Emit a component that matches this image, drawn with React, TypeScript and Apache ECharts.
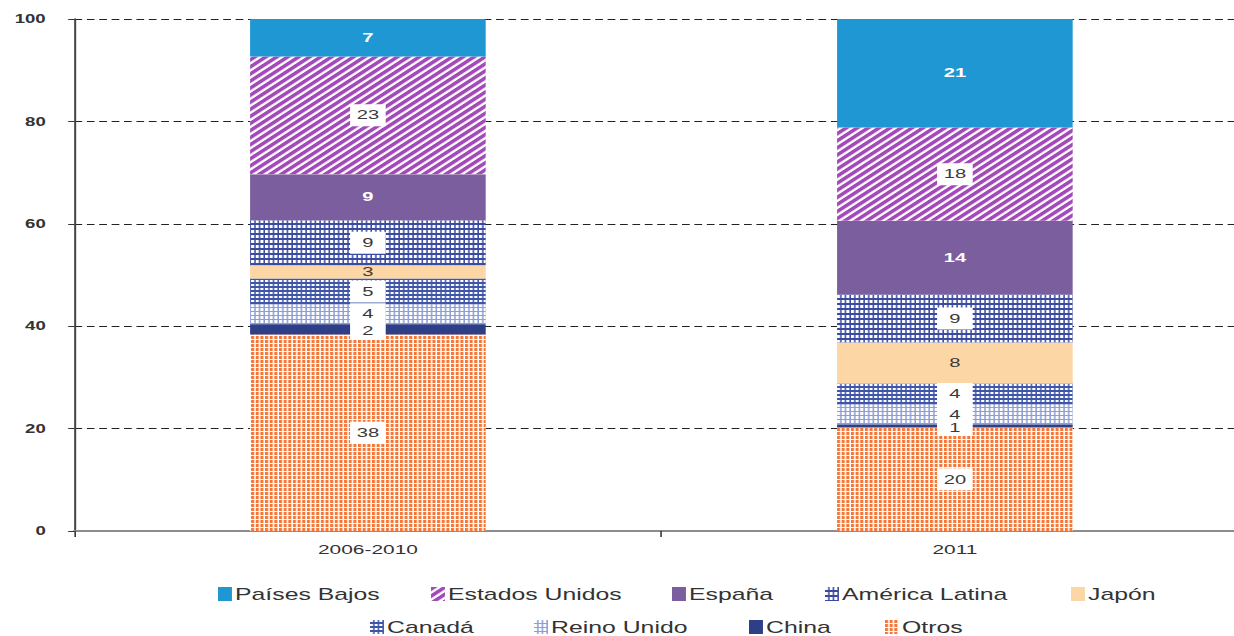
import React, { useEffect, useRef } from "react";
import * as echarts from "echarts";

const categories = ["2006-2010", "2011"];
const otros = [38.4, 20.2];
const china = [2.0, 0.6];
const reinoUnido = [3.9, 3.9];
const canada = [5.0, 4.1];
const japon = [2.6, 8.0];
const americaLatina = [8.8, 9.4];
const espana = [9.0, 14.4];
const estadosUnidos = [23.0, 18.2];
const paisesBajos = [7.3, 21.2];
const yTicks = [0, 20, 40, 60, 80, 100];

const FONT = "Liberation Sans";
// the reference is horizontally stretched; draw narrower and stretch with CSS
const SX = 1.55;

const fmt = (p: any) => String(Math.round(p.value));
const boxLabel = {
  show: true,
  position: "inside",
  color: "#3a3a3a",
  fontFamily: FONT,
  fontSize: 13,
  lineHeight: 14,
  backgroundColor: "#ffffff",
  padding: [4, 4.5],
  width: 14,
  align: "center",
  formatter: fmt,
};
const chinaLabel = { ...boxLabel, padding: [1, 4.5], offset: [0, 2] };
const whiteLabel = {
  show: true,
  position: "inside",
  color: "#ffffff",
  fontFamily: FONT,
  fontSize: 13,
  fontWeight: "bold",
  formatter: fmt,
};
const plainLabel = {
  show: true,
  position: "inside",
  color: "#3a3a3a",
  fontFamily: FONT,
  fontSize: 13,
  formatter: fmt,
};

export default function App() {
  const ref = useRef<HTMLDivElement>(null);
  useEffect(() => {
    document.body.style.margin = "0";
    const chart = echarts.init(ref.current!, null, { renderer: "svg" });
    const mk = (name: string, data: number[], color: string, label: any, decal?: any, z = 2) => ({
      name,
      type: "bar",
      stack: "total",
      barWidth: 152,
      z,
      data,
      itemStyle: decal ? { color, decal } : { color },
      label,
    });
    const series = [
      mk("Otros", otros, "#ffffff", boxLabel, {
        symbol: "rect", symbolSize: 1, color: "#f4773a",
        dashArrayX: [[2, 0.7]], dashArrayY: [3, 1],
      }),
      mk("China", china, "#2e3f88", chinaLabel, undefined, 3),
      mk("Reino Unido", reinoUnido, "#8d9dd6", boxLabel, {
        symbol: "rect", symbolSize: 1, color: "#ffffff",
        dashArrayX: [[2, 0.7]], dashArrayY: [3, 1],
      }),
      mk("Canadá", canada, "#3f56a8", boxLabel, {
        symbol: "rect", symbolSize: 1, color: "#ffffff",
        dashArrayX: [[1.3, 1]], dashArrayY: [2, 1.5],
      }),
      mk("Japón", japon, "#fdd6a5", plainLabel),
      mk("América Latina", americaLatina, "#3a4a9e", boxLabel, {
        symbol: "rect", symbolSize: 1, color: "#ffffff",
        dashArrayX: [[2, 0.85]], dashArrayY: [3, 1.3],
      }),
      mk("España", espana, "#7b5e9d", whiteLabel),
      mk("Estados Unidos", estadosUnidos, "#ffffff", boxLabel, {
        symbol: "rect", symbolSize: 1, color: "#a24bb8",
        dashArrayX: [1, 0], dashArrayY: [2.2, 1.8], rotation: -Math.PI / 4,
      }),
      mk("Países Bajos", paisesBajos, "#1f97d3", whiteLabel),
    ];
    const legendPos: [string, number, number][] = [
      ["Países Bajos", 218, 586],
      ["Estados Unidos", 431, 586],
      ["España", 672, 586],
      ["América Latina", 825, 586],
      ["Japón", 1071, 586],
      ["Canadá", 370, 619],
      ["Reino Unido", 534, 619],
      ["China", 749, 619],
      ["Otros", 885, 619],
    ];
    chart.setOption({
      animation: false,
      textStyle: { fontFamily: FONT },
      grid: { left: 48, top: 19, width: 757.4, bottom: 105, containLabel: false },
      legend: legendPos.map(([n, x, y]) => ({
        data: [n],
        left: x / SX,
        top: y,
        padding: 0,
        icon: "rect",
        itemWidth: 9,
        itemHeight: 14,
        selectedMode: false,
        textStyle: { fontFamily: FONT, fontSize: 16, color: "#333", padding: [0, 0, 0, -3] },
      })),
      xAxis: {
        type: "category",
        data: categories,
        axisLine: { lineStyle: { color: "#8c8c8c", width: 2 } },
        axisTick: { show: true, length: 6, lineStyle: { color: "#333", width: 1 } },
        axisLabel: { color: "#333", fontSize: 13.5, fontFamily: FONT, margin: 11 },
      },
      yAxis: {
        type: "value",
        min: yTicks[0],
        max: yTicks[yTicks.length - 1],
        interval: 20,
        axisLine: { show: true, lineStyle: { color: "#444", width: 1.3 } },
        axisTick: { show: true, length: 4, lineStyle: { color: "#333" } },
        axisLabel: { color: "#333", fontSize: 12, fontFamily: FONT, margin: 18.5, fontWeight: "bold" },
        splitLine: { show: true, lineStyle: { color: "#222", width: 1, type: [5, 3] } },
      },
      series,
    });
    return () => chart.dispose();
  }, []);
  return (
    <div style={{ width: 1234, height: 636, overflow: "hidden", position: "relative" }}>
      <div
        ref={ref}
        style={{ width: 813, height: 636, transform: `scaleX(${SX})`, transformOrigin: "0 0" }}
      />
    </div>
  );
}
